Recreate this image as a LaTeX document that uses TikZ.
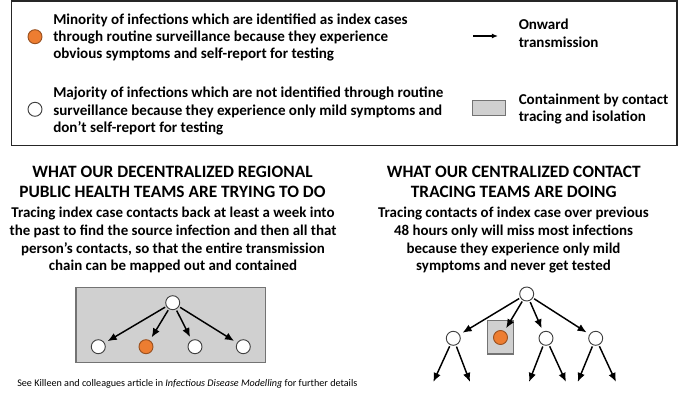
\documentclass[tikz,border=0pt]{standalone}
\usepackage{fontspec}
\setmainfont{Carlito}
\usetikzlibrary{arrows.meta}

\definecolor{indexorange}{HTML}{ED7D31}
\definecolor{containgrey}{HTML}{D0D0D0}

\begin{document}
\begin{tikzpicture}[
  x=0.75pt,y=-0.75pt,
  infection/.style={circle,draw=black!75,line width=0.7pt,fill=white,minimum size=10.5pt,inner sep=0pt},
  indexcase/.style={infection,draw=indexorange!65!black,fill=indexorange},
  containment/.style={draw=black!55,fill=containgrey,line width=0.8pt},
  onward/.style={-{Latex[length=2.4mm,width=2mm]},line width=1.1pt,shorten <=1pt,shorten >=2.5pt},
  legendtext/.style={anchor=west,align=left,inner sep=0pt,font=\fontsize{11.3}{13.1}\selectfont\bfseries},
  heading/.style={anchor=north,align=center,inner sep=0pt,font=\fontsize{13}{15}\selectfont\bfseries},
  blurb/.style={anchor=north,align=center,inner sep=0pt,font=\fontsize{11.2}{13.3}\selectfont\bfseries}
]
  \useasboundingbox (0,0) rectangle (679,396);

  % legend
  \draw[line width=1.1pt,black!85] (11.5,1) rectangle (677,145.5);
  \node[indexcase] (keyindex) at (35,36.7) {};
  \node[infection] (keymild) at (35,109.3) {};
  \node[legendtext] (keyindextext) at (53,37.5) {Minority of infections which are identified as index cases\\through routine surveillance because they experience\\obvious symptoms and self-report for testing};
  \node[legendtext] (keymildtext) at (53,111) {Majority of infections which are not identified through routine\\surveillance because they experience only mild symptoms and\\don’t self-report for testing};
  \coordinate (keyfrom) at (473,36);
  \coordinate (keyto) at (498,36);
  \draw[-{Latex[length=1.6mm,width=1.3mm]},line width=0.9pt] (keyfrom) -- (keyto);
  \node[legendtext] (keyonward) at (518.5,33.5) {Onward\\transmission};
  \node[containment,minimum width=24.5pt,minimum height=10.8pt,inner sep=0pt] (keybox) at (489,108) {};
  \node[legendtext] (keyboxtext) at (518.5,108.8) {Containment by contact\\tracing and isolation};

  % decentralized regional teams
  \node[heading] (regionhead) at (172.5,166) {WHAT OUR DECENTRALIZED REGIONAL\\PUBLIC HEALTH TEAMS ARE TRYING TO DO};
  \node[blurb] (regiontext) at (173,207) {Tracing index case contacts back at least a week into\\the past to find the source infection and then all that\\person’s contacts, so that the entire transmission\\chain can be mapped out and contained};
  \draw[containment] (76,287.3) rectangle (265.7,362.3);
  \node[infection] (rroot) at (172.7,302.7) {};
  \node[infection] (ra) at (98.3,346.7) {};
  \node[indexcase] (rb) at (146,346.7) {};
  \node[infection] (rc) at (195,346.7) {};
  \node[infection] (rd) at (243.3,346.7) {};
  \foreach \n in {ra,rb,rc,rd} \draw[onward] (rroot) -- (\n);
  \node[anchor=base west,inner sep=0pt,font=\fontsize{7.6}{9}\selectfont] (source) at (17,386) {See Killeen and colleagues article in \textit{Infectious Disease Modelling} for further details};

  % centralized contact tracing teams
  \node[heading] (centralhead) at (513.8,166) {WHAT OUR CENTRALIZED CONTACT\\TRACING TEAMS ARE DOING};
  \node[blurb] (centraltext) at (513.5,207) {Tracing contacts of index case over previous\\48 hours only will miss most infections\\because they experience only mild\\symptoms and never get tested};
  \draw[containment] (487.5,320.7) rectangle (513.5,354);
  \node[infection] (croot) at (526.7,294) {};
  \node[infection] (ca) at (453.3,338.3) {};
  \node[indexcase] (cb) at (500.5,337.5) {};
  \node[infection] (cc) at (546,338.3) {};
  \node[infection] (cd) at (595.7,338.3) {};
  \foreach \n in {ca,cb,cc,cd} \draw[onward] (croot) -- (\n);
  \foreach \n/\x in {a1/433.3,a2/470,c1/529,c2/566,d1/577.7,d2/616} \coordinate (g\n) at (\x,382);
  \draw[onward,shorten >=0pt] (ca) -- (ga1);
  \draw[onward,shorten >=0pt] (ca) -- (ga2);
  \draw[onward,shorten >=0pt] (cc) -- (gc1);
  \draw[onward,shorten >=0pt] (cc) -- (gc2);
  \draw[onward,shorten >=0pt] (cd) -- (gd1);
  \draw[onward,shorten >=0pt] (cd) -- (gd2);
\end{tikzpicture}
\end{document}
